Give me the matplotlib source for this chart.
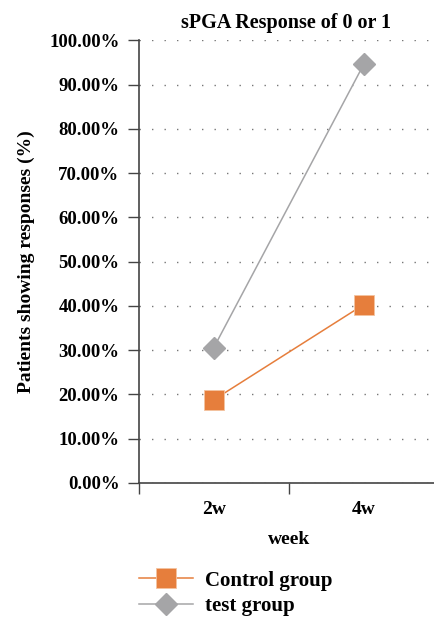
import numpy as np
import matplotlib.pyplot as plt
from matplotlib.ticker import PercentFormatter

# data
weeks = ["2w", "4w"]
control_group = [18.8, 40.3]
test_group = [30.6, 94.6]
y_ticks = [0, 10, 20, 30, 40, 50, 60, 70, 80, 90, 100]

plt.rcParams['font.family'] = ['Liberation Serif', 'DejaVu Serif']
plt.rcParams['font.weight'] = 'bold'

fig = plt.figure(figsize=(4.34, 6.2), dpi=100)
ax = fig.add_axes([0.320, 0.221, 0.691, 0.714])

x = np.arange(len(weeks))
ax.plot(x, control_group, color='#E67E3C', lw=1.1, marker='s', markersize=14,
        markeredgecolor='#F4C3A0', markeredgewidth=0.6, label='Control group', zorder=3)
ax.plot(x, test_group, color='#A5A5A7', lw=1.1, marker='D', markersize=11,
        markeredgecolor='#A5A5A7', label='test group', zorder=3)

ax.set_xlim(-0.5, 1.5)
ax.set_ylim(0, 100)
ax.set_yticks(y_ticks)
ax.yaxis.set_major_formatter(PercentFormatter(decimals=2))
ax.set_xticks([-0.5, 0.5, 1.5])
ax.set_xticklabels([])
ax.set_xticks(x, minor=True)
ax.set_xticklabels(weeks, minor=True)
ax.tick_params(axis='x', which='minor', length=0, pad=13, labelsize=14)
ax.tick_params(axis='x', which='major', length=8, width=1, color='#444444', direction='out')
ax.tick_params(axis='y', length=8, width=1, color='#444444', labelsize=13.5, pad=6)

ax.grid(axis='y', linestyle=(0, (1, 8)), color='#777777', lw=1)
for s in ['top', 'right']:
    ax.spines[s].set_visible(False)
for s in ['left', 'bottom']:
    ax.spines[s].set_color('#444444')
    ax.spines[s].set_linewidth(1.2)

ax.set_title('sPGA Response of 0 or 1', fontsize=14.5, fontweight='bold', pad=9, x=0.49)
ax.set_xlabel('week', fontsize=14, fontweight='bold', labelpad=9)
ax.set_ylabel('Patients showing responses (%)', fontsize=14, fontweight='bold', labelpad=10)

ax.legend(loc='upper left', bbox_to_anchor=(-0.063, -0.156), frameon=False,
          fontsize=15, handlelength=2.6, handletextpad=0.6, labelspacing=0.25)

fig.savefig('out.png', dpi=100)
